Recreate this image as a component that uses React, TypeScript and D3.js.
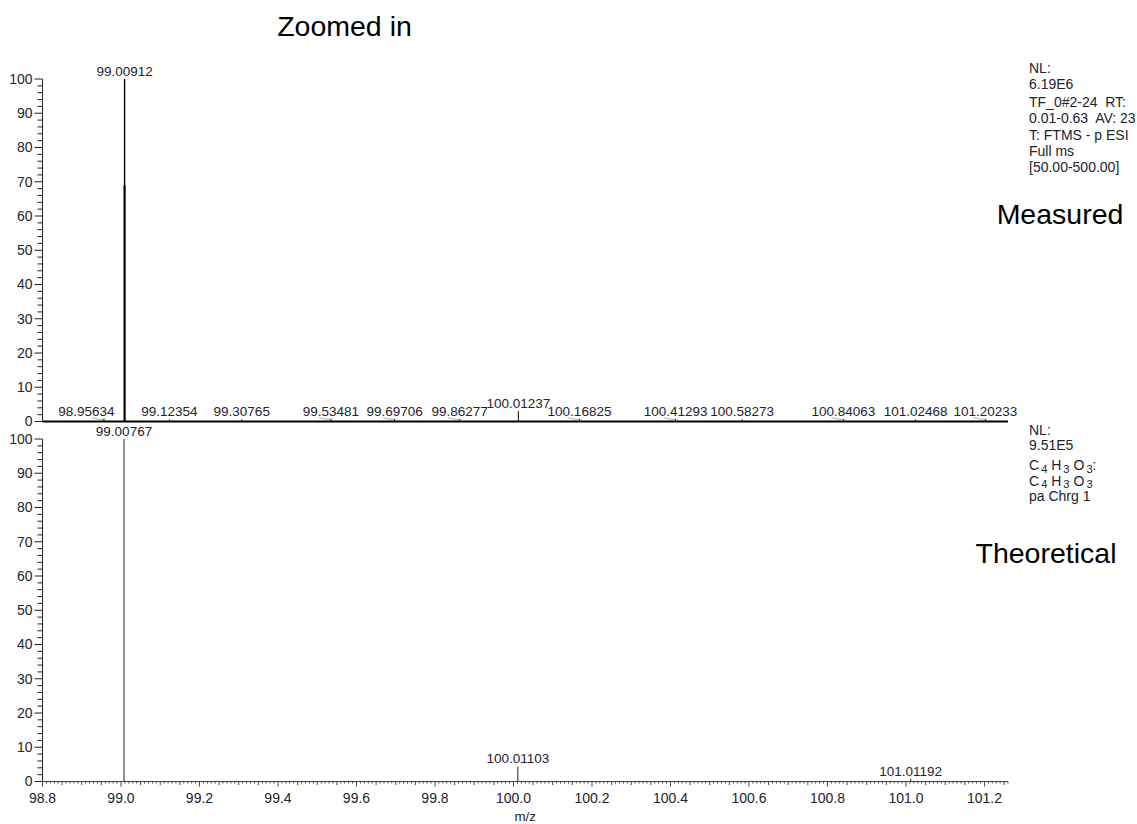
import React from 'react';
import * as d3 from 'd3';

// ---- data ----
const mzDomain: [number, number] = [98.8, 101.26];
const xTickValues = [98.8, 99.0, 99.2, 99.4, 99.6, 99.8, 100.0, 100.2, 100.4, 100.6, 100.8, 101.0, 101.2];
const yTickValues = [0, 10, 20, 30, 40, 50, 60, 70, 80, 90, 100];

const measuredMz = [98.95634, 99.00912, 99.12354, 99.30765, 99.53481, 99.69706, 99.86277, 100.01237, 100.16825, 100.41293, 100.58273, 100.84063, 101.02468, 101.20233];
const measuredIntensity = [0.7, 100, 0.6, 0.6, 0.6, 0.6, 0.6, 3.0, 0.6, 0.6, 0.6, 0.6, 0.6, 0.6];
const measuredProfileMz = [98.95634, 99.53481, 99.69706, 99.86277, 100.16825, 100.41293, 100.84063, 101.20233];

const theoreticalMz = [99.00767, 100.01103, 101.01192];
const theoreticalIntensity = [100, 4.4, 0.8];

const titleText = 'Zoomed in';
const measuredName = 'Measured';
const theoreticalName = 'Theoretical';
const xAxisTitle = 'm/z';
const measuredInfo = ['NL:', '6.19E6', 'TF_0#2-24  RT:', '0.01-0.63  AV: 23', 'T: FTMS - p ESI', 'Full ms', '[50.00-500.00]'];
const theoreticalInfo = ['NL:', '9.51E5', 'C_4 H_3 O_3:', 'C_4 H_3 O_3', 'pa Chrg 1'];

// ---- layout ----
const W = 1137;
const H = 824;
const LEFT = 42.5;
const RIGHT = 1008;
const FONT = '"Liberation Sans", Arial, sans-serif';
const FS = 14;
const FS_PEAK = 13.5;
const TXT = '#23232e';

const x = d3.scaleLinear().domain(mzDomain).range([LEFT, RIGHT]);
const yTop = d3.scaleLinear().domain([0, 100]).range([421.5, 79]);
const yBot = d3.scaleLinear().domain([0, 100]).range([781.5, 439]);
const fmt = d3.format('.5f');

function textWidth(s: string) {
  let w = 0;
  for (const c of s) w += c === '.' ? 0.278 : 0.556;
  return w * FS_PEAK;
}

function placeLabels(mz: number[], inten: number[]) {
  return mz.map((m, i) => {
    const label = fmt(m);
    const px = x(m);
    const half = textWidth(label) / 2;
    let cx = px;
    mz.forEach((m2, j) => {
      if (j === i || inten[j] < 50 || inten[i] >= 50) return;
      const p2 = x(m2);
      if (cx - half < p2 + 6 && cx + half > p2 - 6) {
        cx = p2 < px ? p2 + 10 + half : p2 - 10 - half;
      }
    });
    return { label, cx, px };
  });
}

function SubText({ s, xPos, yPos }: { s: string; xPos: number; yPos: number }) {
  const parts = s.split(/_(\d+)/);
  const out: React.ReactNode[] = [];
  let sub = false;
  parts.forEach((p, i) => {
    if (i % 2 === 1) {
      out.push(
        <tspan key={i} fontSize={FS * 0.8} dx={2} dy={2.5}>
          {p}
        </tspan>
      );
      sub = true;
    } else if (p.length) {
      out.push(
        <tspan key={i} dy={sub ? -2.5 : 0}>
          {p}
        </tspan>
      );
      sub = false;
    }
  });
  return (
    <text x={xPos} y={yPos} fontSize={FS} fill={TXT} style={{ whiteSpace: 'pre' }}>
      {out}
    </text>
  );
}

function YAxis({ y }: { y: d3.ScaleLinear<number, number> }) {
  const minor = d3.range(0, 101, 2).filter((v) => v % 10 !== 0);
  return (
    <g>
      <line x1={LEFT} x2={LEFT} y1={y(0)} y2={y(100)} stroke="#222" strokeWidth={1} />
      {yTickValues.map((v) => (
        <g key={v}>
          <line x1={LEFT - 8} x2={LEFT} y1={y(v)} y2={y(v)} stroke="#222" />
          <text x={LEFT - 10} y={y(v)} dy="0.35em" textAnchor="end" fontSize={FS} fill={TXT}>
            {v}
          </text>
        </g>
      ))}
      {minor.map((v) => (
        <line key={v} x1={LEFT - 5} x2={LEFT} y1={y(v)} y2={y(v)} stroke="#222" />
      ))}
    </g>
  );
}

export default function App() {
  const topLabels = placeLabels(measuredMz, measuredIntensity);
  const botLabels = placeLabels(theoreticalMz, theoreticalIntensity);
  const minorX = d3.range(Math.round(98.8 * 100), Math.round(101.26 * 100) + 1).map((v) => v / 100);

  return (
    <svg
      width={W}
      height={H}
      style={{ position: 'absolute', left: 0, top: 0, background: '#fff' }}
      fontFamily={FONT}
    >
      <rect width={W} height={H} fill="#fff" />
      <text x={344.5} y={36} textAnchor="middle" fontSize={28.5} fill="#000">
        {titleText}
      </text>

      {/* ----- top panel (measured) ----- */}
      <YAxis y={yTop} />
      <line x1={LEFT} x2={RIGHT} y1={yTop(0)} y2={yTop(0)} stroke="#000" strokeWidth={2} />
      {measuredProfileMz.map((m, i) => (
        <path
          key={i}
          d={`M${x(m) - 12},${yTop(0) - 4} Q${x(m) - 5},${yTop(0) - 1} ${x(m) + 2},${yTop(0) - 2.5}`}
          fill="none"
          stroke="#8cc68c"
          strokeWidth={1}
        />
      ))}
      {measuredMz.map((m, i) => (
        <g key={i}>
          <line
            x1={x(m)}
            x2={x(m)}
            y1={yTop(0)}
            y2={yTop(measuredIntensity[i])}
            stroke="#000"
            strokeWidth={measuredIntensity[i] > 50 ? 1.4 : 1}
          />
          {measuredIntensity[i] > 50 && (
            <line x1={x(m)} x2={x(m)} y1={yTop(0)} y2={yTop(69)} stroke="#000" strokeWidth={2} />
          )}
        </g>
      ))}
      {topLabels.map((l, i) => (
        <text
          key={i}
          x={l.cx}
          y={yTop(measuredIntensity[i]) - 3}
          textAnchor="middle"
          fontSize={FS_PEAK}
          fill={TXT}
        >
          {l.label}
        </text>
      ))}
      {measuredInfo.map((s, i) => (
        <text key={i} x={1029} y={73 + i * 16.4 + (i >= 2 ? 1 : 0)} fontSize={FS} fill={TXT} style={{ whiteSpace: 'pre' }}>
          {s}
        </text>
      ))}
      <text x={1060} y={224} textAnchor="middle" fontSize={28.5} fill="#000">
        {measuredName}
      </text>

      {/* ----- bottom panel (theoretical) ----- */}
      <YAxis y={yBot} />
      <line x1={LEFT} x2={RIGHT} y1={yBot(0)} y2={yBot(0)} stroke="#444" strokeWidth={1.2} />
      {minorX.map((v) => {
        const r = Math.round(v * 100);
        const len = r % 20 === 0 ? 5 : r % 5 === 0 ? 3.5 : 2;
        return (
          <line key={r} x1={x(v)} x2={x(v)} y1={yBot(0)} y2={yBot(0) + len} stroke="#444" strokeWidth={1} />
        );
      })}
      {xTickValues.map((v) => (
        <text key={v} x={x(v)} y={803} textAnchor="middle" fontSize={FS} fill={TXT}>
          {d3.format('.1f')(v)}
        </text>
      ))}
      <text x={x(100.03)} y={821} textAnchor="middle" fontSize={FS * 0.95} fill={TXT}>
        {xAxisTitle}
      </text>
      {theoreticalMz.map((m, i) => (
        <line
          key={i}
          x1={x(m)}
          x2={x(m)}
          y1={yBot(0)}
          y2={yBot(theoreticalIntensity[i])}
          stroke="#555"
          strokeWidth={1.3}
        />
      ))}
      {botLabels.map((l, i) => (
        <text
          key={i}
          x={l.cx}
          y={yBot(theoreticalIntensity[i]) - 3}
          textAnchor="middle"
          fontSize={FS_PEAK}
          fill={TXT}
        >
          {l.label}
        </text>
      ))}
      {theoreticalInfo.map((s, i) => (
        <SubText key={i} s={s} xPos={1029} yPos={434.5 + i * 15.5 + (i >= 2 ? 4.5 : 0)} />
      ))}
      <text x={1046} y={563} textAnchor="middle" fontSize={28.5} fill="#000">
        {theoreticalName}
      </text>
    </svg>
  );
}
